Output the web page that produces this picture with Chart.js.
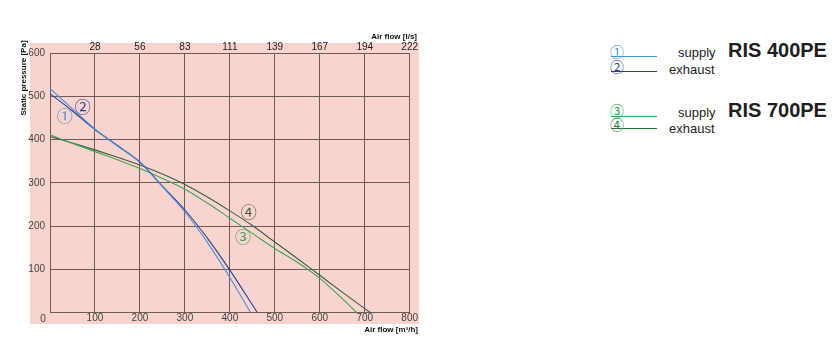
<!DOCTYPE html>
<html>
<head>
<meta charset="utf-8">
<script src="https://cdn.jsdelivr.net/npm/chart.js@4.4.1/dist/chart.umd.min.js"></script>
<style>
html,body{margin:0;padding:0;background:#fff;width:833px;height:339px;overflow:hidden;}
body{position:relative;font-family:"Liberation Sans",Arial,sans-serif;}
#c{position:absolute;left:0;top:0;}
.t{position:absolute;white-space:nowrap;line-height:1;color:#1e1e1e;}
.ttl{font-weight:bold;font-size:8px;color:#111;}
.lg{font-size:13px;}
.ris{font-size:20px;font-weight:bold;color:#1e1e1e;}
.cd{position:absolute;font-family:"Noto Sans CJK JP","DejaVu Sans",sans-serif;font-size:14px;line-height:1;}
.ln{position:absolute;height:0;width:46px;}
</style>
</head>
<body>
<canvas id="c" width="430" height="339"></canvas>

<!-- axis titles -->
<div class="t ttl" style="left:0;width:417px;text-align:right;top:33.2px;">Air flow [l/s]</div>
<div class="t ttl" style="left:0;width:418px;text-align:right;top:326.2px;">Air flow [m³/h]</div>
<div class="t ttl" style="left:23.5px;top:78px;transform:translate(-50%,-50%) rotate(-90deg);">Static pressure [Pa]</div>
<div class="t" style="left:40.2px;top:314px;font-size:10px;color:#444;">0</div>

<!-- legend -->
<div class="cd" style="left:610px;top:44px;color:#3a98da;">①</div>
<div class="ln" style="left:611px;top:56px;border-top:1px solid #3a98da;"></div>
<div class="t lg" style="left:678px;top:46px;">supply</div>
<div class="cd" style="left:610px;top:58.5px;color:#2c3f8e;">②</div>
<div class="ln" style="left:611px;top:71px;border-top:1px solid #2c3f8e;"></div>
<div class="t lg" style="left:669px;top:63px;">exhaust</div>
<div class="t ris" style="left:728px;top:40px;">RIS 400PE</div>

<div class="cd" style="left:610px;top:102.5px;color:#36a451;">③</div>
<div class="ln" style="left:611px;top:116px;border-top:1px solid #36a451;"></div>
<div class="t lg" style="left:678px;top:106px;">supply</div>
<div class="cd" style="left:610px;top:117px;color:#2a7a40;">④</div>
<div class="ln" style="left:611px;top:127.5px;border-top:1px solid #2a7a40;"></div>
<div class="t lg" style="left:669px;top:121.5px;">exhaust</div>
<div class="t ris" style="left:728px;top:100px;">RIS 700PE</div>

<script>
// ---- data ----
const flowTicks = [0, 100, 200, 300, 400, 500, 600, 700, 800];          // m³/h
const topLabels = ['', '28', '56', '83', '111', '139', '167', '194', '222']; // l/s
const pressureTicks = [0, 100, 200, 300, 400, 500, 600];               // Pa

const flowSupply400  = [0, 50, 100, 150, 200, 250, 300, 350, 400, 446];
const presSupply400  = [518, 471, 424, 385, 347, 291, 233, 162, 81, 0];
const flowExhaust400 = [0, 50, 100, 150, 200, 250, 300, 350, 400, 461];
const presExhaust400 = [506, 466, 423, 386, 348, 292, 237, 172, 98, 0];
const flowSupply700  = [0, 50, 100, 150, 200, 250, 300, 350, 400, 450, 500, 550, 600, 650, 682];
const presSupply700  = [411, 391, 372, 353, 333, 310, 285, 253, 218, 183, 148, 116, 79, 32, 0];
const flowExhaust700 = [0, 50, 100, 150, 200, 250, 300, 350, 400, 450, 500, 550, 600, 650, 700, 712];
const presExhaust700 = [407, 392, 376, 359, 341, 320, 296, 267, 235, 201, 163, 125, 86, 47, 9, 0];

const curveMarks = ['①', '②', '③', '④'];
const markFlow   = [33, 73, 429, 442];
const markPres   = [455, 476, 175, 232];

// ---- styles ----
const colors = ['#4a8fd6', '#2c3f8e', '#3fa556', '#3a5e44'];
const gridColor = '#6d5b59';

function pts(xs, ys) { return xs.map((x, i) => ({x: x, y: ys[i]})); }

const bgPlugin = {
  id: 'bg',
  beforeDraw(chart) {
    const {ctx, scales} = chart;
    const l = scales.x.getPixelForValue(flowTicks[0]);
    const r = scales.x.getPixelForValue(flowTicks[flowTicks.length - 1]);
    const t = scales.y.getPixelForValue(pressureTicks[pressureTicks.length - 1]);
    const b = scales.y.getPixelForValue(pressureTicks[0]);
    ctx.save();
    ctx.fillStyle = '#f9d3cd';
    ctx.fillRect(l - 20, t - 10, (r - l) + 29.3, (b - t) + 21.5);
    ctx.restore();
  }
};

const markPlugin = {
  id: 'marks',
  afterDatasetsDraw(chart) {
    const {ctx, scales} = chart;
    ctx.save();
    ctx.font = '16px "Noto Sans CJK JP", "DejaVu Sans", sans-serif';
    ctx.textAlign = 'center';
    ctx.textBaseline = 'middle';
    curveMarks.forEach((m, i) => {
      ctx.fillStyle = colors[i];
      ctx.fillText(m, scales.x.getPixelForValue(markFlow[i]), scales.y.getPixelForValue(markPres[i]));
    });
    ctx.restore();
  }
};

const ds = (label, xs, ys, c) => ({
  label: label, data: pts(xs, ys), borderColor: c, borderWidth: 1.1,
  pointRadius: 0, fill: false, cubicInterpolationMode: 'monotone'
});

new Chart(document.getElementById('c'), {
  type: 'line',
  data: {
    datasets: [
      ds('RIS 400PE supply', flowSupply400, presSupply400, colors[0]),
      ds('RIS 400PE exhaust', flowExhaust400, presExhaust400, colors[1]),
      ds('RIS 700PE supply', flowSupply700, presSupply700, colors[2]),
      ds('RIS 700PE exhaust', flowExhaust700, presExhaust700, colors[3])
    ]
  },
  options: {
    responsive: false,
    animation: false,
    devicePixelRatio: 1,
    layout: {padding: {left: 0, right: 20.3, top: 0, bottom: 0}},
    plugins: {legend: {display: false}, tooltip: {enabled: false}},
    scales: {
      x: {
        type: 'linear', position: 'bottom',
        min: flowTicks[0], max: flowTicks[flowTicks.length - 1],
        afterBuildTicks: s => { s.ticks = flowTicks.map(v => ({value: v})); },
        afterFit: s => { s.height = 26.5; },
        ticks: {
          padding: 0, maxRotation: 0, autoSkip: false,
          color: '#444', font: {family: '"Liberation Sans", Arial, sans-serif', size: 10},
          callback: v => (v === 0 ? '' : String(v))
        },
        grid: {color: gridColor, lineWidth: 1, drawTicks: false},
        border: {color: gridColor, width: 1}
      },
      x2: {
        type: 'linear', position: 'top',
        min: flowTicks[0], max: flowTicks[flowTicks.length - 1],
        afterBuildTicks: s => { s.ticks = flowTicks.map(v => ({value: v})); },
        afterFit: s => { s.height = 53; },
        ticks: {
          padding: 0, maxRotation: 0, autoSkip: false,
          color: '#222', font: {family: '"Liberation Sans", Arial, sans-serif', size: 10},
          callback: (v, i) => topLabels[i]
        },
        grid: {display: false, drawTicks: false},
        border: {display: false}
      },
      y: {
        type: 'linear', position: 'left',
        min: pressureTicks[0], max: pressureTicks[pressureTicks.length - 1],
        afterBuildTicks: s => { s.ticks = pressureTicks.map(v => ({value: v})); },
        afterFit: s => { s.width = 50; },
        ticks: {
          padding: 5,
          color: '#444', font: {family: '"Liberation Sans", Arial, sans-serif', size: 10},
          callback: v => (v === 0 ? '' : String(v))
        },
        grid: {color: gridColor, lineWidth: 1, drawTicks: false},
        border: {color: gridColor, width: 1}
      }
    }
  },
  plugins: [bgPlugin, markPlugin]
});
</script>
</body>
</html>
